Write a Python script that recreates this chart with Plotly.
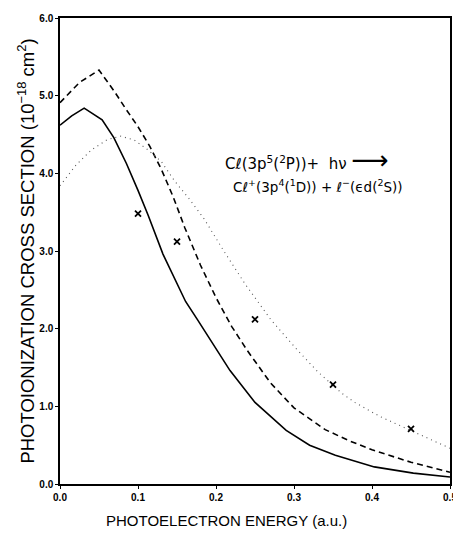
import plotly.graph_objects as go

# solid curve
solid_x = [0.0, 0.015, 0.031, 0.054, 0.069, 0.085, 0.1, 0.113, 0.132, 0.161, 0.176, 0.2, 0.218,
           0.25, 0.29, 0.32, 0.353, 0.403, 0.453, 0.5]
solid_y = [4.62, 4.74, 4.84, 4.69, 4.46, 4.13, 3.78, 3.46, 2.96, 2.35, 2.12, 1.75, 1.46,
           1.05, 0.69, 0.5, 0.37, 0.22, 0.14, 0.09]

# dashed curve
dash_x = [0.0, 0.025, 0.05, 0.07, 0.085, 0.1, 0.115, 0.13, 0.145, 0.16, 0.18, 0.2, 0.22, 0.24,
          0.27, 0.3, 0.34, 0.37, 0.4, 0.45, 0.5]
dash_y = [4.91, 5.17, 5.33, 5.05, 4.82, 4.6, 4.35, 4.05, 3.7, 3.3, 2.82, 2.4, 2.03, 1.72,
          1.3, 0.98, 0.7, 0.56, 0.44, 0.28, 0.15]

# dotted curve
dot_x = [0.0, 0.02, 0.04, 0.06, 0.077, 0.095, 0.113, 0.13, 0.147, 0.165, 0.185, 0.21, 0.237,
         0.252, 0.27, 0.302, 0.33, 0.361, 0.378, 0.41, 0.45, 0.5]
dot_y = [3.84, 4.1, 4.3, 4.43, 4.48, 4.43, 4.3, 4.15, 3.9, 3.68, 3.41, 3.0, 2.58,
         2.37, 2.12, 1.75, 1.45, 1.17, 1.05, 0.87, 0.69, 0.46]

# crosses
exp_x = [0.1, 0.15, 0.25, 0.35, 0.45]
exp_y = [3.48, 3.12, 2.12, 1.28, 0.71]

fig = go.Figure()
fig.add_trace(go.Scatter(x=solid_x, y=solid_y, mode='lines',
                         line=dict(color='black', width=1.6)))
fig.add_trace(go.Scatter(x=dash_x, y=dash_y, mode='lines',
                         line=dict(color='black', width=1.6, dash='6px,4px')))
fig.add_trace(go.Scatter(x=dot_x, y=dot_y, mode='lines',
                         line=dict(color='#555555', width=1.1, dash='1px,4px')))
fig.add_trace(go.Scatter(x=exp_x, y=exp_y, mode='markers',
                         marker=dict(symbol='x-thin', size=6, color='black',
                                     line=dict(width=1.8, color='black'))))

fig.add_annotation(x=0.209, y=4.17, xanchor='left', yanchor='middle', showarrow=False,
                   text='Cℓ(3p<sup>5</sup>(<sup>2</sup>P))+  hν <span style="font-size:26px">⟶</span>',
                   font=dict(family='DejaVu Sans', size=15, color='black'))
fig.add_annotation(x=0.219, y=3.84, xanchor='left', yanchor='middle', showarrow=False,
                   text='Cℓ<sup>+</sup>(3p<sup>4</sup>(<sup>1</sup>D)) + ℓ<sup>−</sup>(ϵd(<sup>2</sup>S))',
                   font=dict(family='DejaVu Sans', size=13.5, color='black'))
# x-axis title, sits left of centre in the original
fig.add_annotation(x=0.426, y=0, xref='paper', yref='paper', xanchor='center', yanchor='middle',
                   yshift=-36, showarrow=False, text='PHOTOELECTRON ENERGY (a.u.)',
                   font=dict(family='Liberation Sans', size=15, color='black'))

fig.update_layout(
    width=453, height=525,
    margin=dict(l=52, r=4, t=6, b=49),
    paper_bgcolor='white', plot_bgcolor='white',
    showlegend=False,
    font=dict(family='Liberation Sans', color='black'),
    xaxis=dict(range=[0, 0.5], tickvals=[0, 0.1, 0.2, 0.3, 0.4, 0.5],
               ticktext=['0.0', '0.1', '0.2', '0.3', '0.4', '0.5'],
               showgrid=False, zeroline=False, showline=True, linecolor='black',
               linewidth=1.5, mirror=True, ticks='outside', ticklen=3, tickcolor='black',
               tickfont=dict(size=10, weight='bold'), ticklabeloverflow='allow'),
    yaxis=dict(range=[0, 6], tickvals=[0, 1, 2, 3, 4, 5, 6],
               ticktext=['0.0', '1.0', '2.0', '3.0', '4.0', '5.0', '6.0'],
               showgrid=False, zeroline=False, showline=True, linecolor='black',
               linewidth=1.5, mirror=True, ticks='outside', ticklen=3, tickcolor='black',
               tickfont=dict(size=10, weight='bold'),
               title=dict(text='PHOTOIONIZATION CROSS SECTION (10<sup>−18</sup> cm<sup>2</sup>)',
                          font=dict(size=18.5), standoff=0)),
)

fig.write_html("out.html")
